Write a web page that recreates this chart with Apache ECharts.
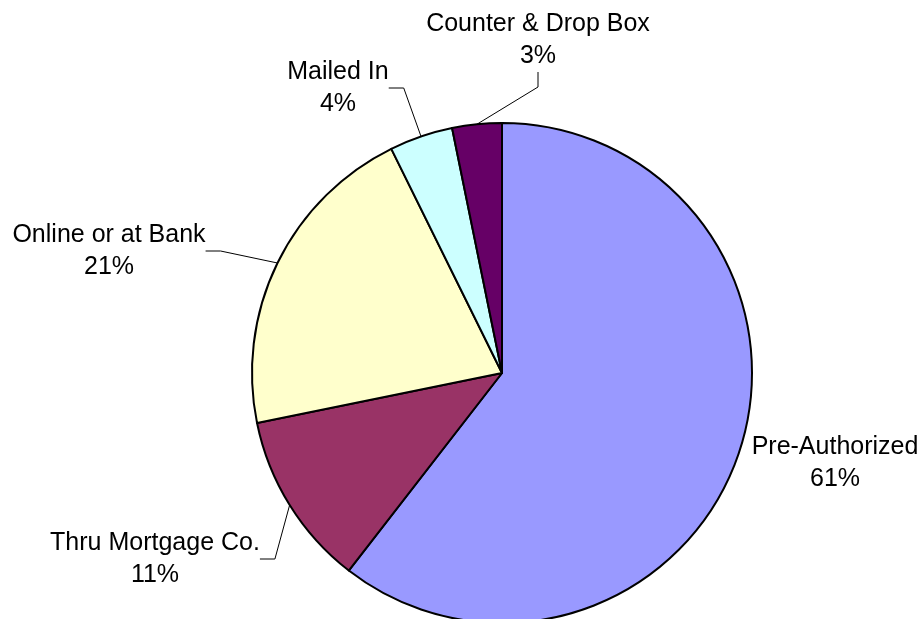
<!DOCTYPE html>
<html>
<head>
<meta charset="utf-8">
<script src="https://cdn.jsdelivr.net/npm/echarts@6/dist/echarts.min.js"></script>
<style>
html,body{margin:0;padding:0;background:#fff;}
#chart{width:923px;height:619px;}
</style>
</head>
<body>
<div id="chart"></div>
<script>
// Data
var categories = ['Pre-Authorized', 'Thru Mortgage Co.', 'Online or at Bank', 'Mailed In', 'Counter & Drop Box'];
var values = [60.5, 11.3, 20.9, 4.1, 3.2];
var colors = ['#9999FF', '#993366', '#FFFFCC', '#CCFFFF', '#660066'];

// Label placements (center of text block)
var labelPos = [[835, 463], [155, 559], [109, 251], [338, 88], [538, 40]];

var total = values.reduce(function (a, b) { return a + b; }, 0);

var chart = echarts.init(document.getElementById('chart'), null, { renderer: 'canvas' });
chart.setOption({
  backgroundColor: '#ffffff',
  animation: false,
  series: [{
    type: 'pie',
    center: [502, 373],
    radius: 250,
    startAngle: 90,
    clockwise: true,
    avoidLabelOverlap: false,
    data: categories.map(function (c, i) {
      return {
        name: c,
        value: values[i],
        itemStyle: { color: colors[i] },
        labelLine: { show: i !== 0 }
      };
    }),
    itemStyle: { borderColor: '#000000', borderWidth: 2 },
    label: {
      show: true,
      position: 'outside',
      color: '#000000',
      fontFamily: 'Liberation Sans, Arial, sans-serif',
      fontSize: 25,
      lineHeight: 32,
      align: 'center',
      formatter: function (p) {
        return p.name + '\n' + Math.round(p.value / total * 100) + '%';
      }
    },
    labelLine: {
      show: true,
      length: 15,
      length2: 15,
      lineStyle: { color: '#000000', width: 1 }
    },
    labelLayout: function (params) {
      var pos = labelPos[params.dataIndex];
      return { x: pos[0], y: pos[1], align: 'center', verticalAlign: 'middle' };
    },
    emphasis: { disabled: true }
  }]
});
</script>
</body>
</html>
